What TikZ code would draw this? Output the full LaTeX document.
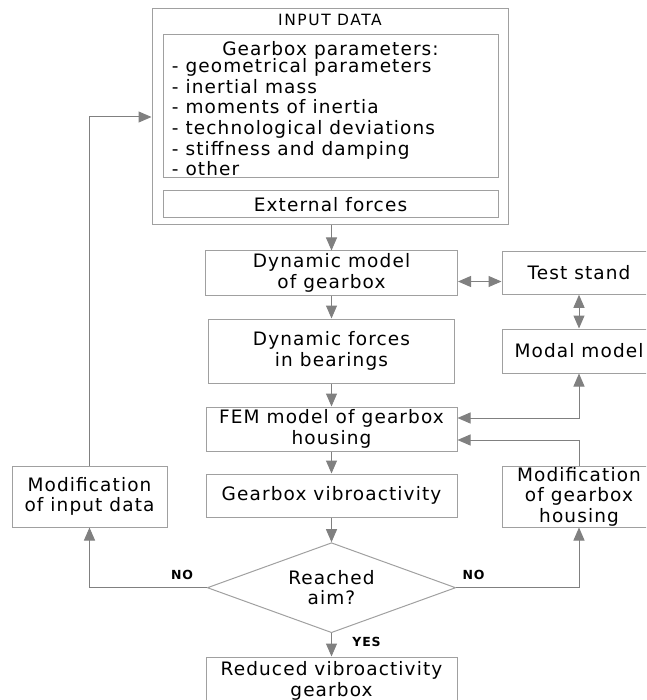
\documentclass[tikz,border=0pt]{standalone}
\usepackage{fontspec}
\setmainfont{DejaVu Sans}[LetterSpace=6]
\newfontfamily\smallcapsfont{DejaVu Sans}[LetterSpace=10]
\usetikzlibrary{arrows.meta,shapes.geometric,calc}
\definecolor{boxgray}{HTML}{A0A0A0}
\definecolor{arrgray}{HTML}{808080}
\begin{document}
\begin{tikzpicture}[x=1pt,y=-1pt,
  every node/.style={font=\fontsize{18.5}{20.6}\selectfont},
  box/.style={draw=boxgray, line width=1pt, inner sep=0pt, align=center},
  arr/.style={draw=arrgray, line width=1pt, -{Triangle[length=13pt,width=11pt]}},
  dbl/.style={draw=arrgray, line width=1pt, {Triangle[length=13pt,width=11pt]}-{Triangle[length=13pt,width=11pt]}},
  lbl/.style={font=\bfseries\fontsize{12.5}{14}\selectfont, inner sep=0pt}]
\useasboundingbox (0,0) rectangle (646,700);
\clip (0,0) rectangle (646,700);
% input block
\node[box, minimum width=356pt, minimum height=216pt] (input) at (330,117) {};
\node[font=\smallcapsfont\fontsize{15.5}{17}\selectfont, inner sep=0pt] (inputlbl) at (330,20) {INPUT DATA};
\node[box, minimum width=335pt, minimum height=143pt] (params) at (330.5,106.5) {};
\node[anchor=base, inner sep=0pt] (ptitle) at (330.5,56) {Gearbox parameters:};
\foreach \t [count=\i] in {geometrical parameters, inertial mass, moments of inertia, technological deviations, stiffness and damping, other}
  \node[anchor=base west, inner sep=0pt] (p\i) at (171.7,{72.7+20.6*(\i-1)}) {- \t};
\node[box, minimum width=335pt, minimum height=27pt] (ext) at (330.5,204.5) {External forces};
% centre column
\node[box, minimum width=252pt, minimum height=44pt] (dyn) at (331.5,273) {Dynamic model\\of gearbox};
\node[box, minimum width=246pt, minimum height=64pt] (force) at (331.5,351) {Dynamic forces\\in bearings};
\node[box, minimum width=251pt, minimum height=44pt] (fem) at (331.5,429) {FEM model of gearbox\\housing};
\node[box, minimum width=251pt, minimum height=43pt] (vib) at (331.5,495.5) {Gearbox vibroactivity};
\node[draw=boxgray, line width=1pt, diamond, aspect=2.76, minimum width=248.4pt, minimum height=90pt, inner sep=0pt, align=center] (dec) at (331.5,587.7) {Reached\\aim?};
\node[box, minimum width=251pt, minimum height=48pt] (red) at (331.5,681) {Reduced vibroactivity\\gearbox};
% right column
\node[box, minimum width=154pt, minimum height=42.5pt] (test) at (579,273) {Test stand};
\node[box, minimum width=154pt, minimum height=44pt] (modal) at (579,351) {Modal model};
\node[box, minimum width=154pt, minimum height=61pt] (modg) at (579,496.5) {Modification\\of gearbox\\housing};
% left column
\node[box, minimum width=155pt, minimum height=61pt] (modi) at (89.5,496.5) {Modification\\of input data};
% labels
\node[lbl] (noL) at (182,575) {NO};
\node[lbl] (noR) at (473.5,575) {NO};
\node[lbl] (yes) at (366.5,642) {YES};
% connectors
\draw[arr] (dyn.north |- input.south) -- (dyn.north);
\draw[arr] (dyn.south) -- (force.north);
\draw[arr] (force.south) -- (fem.north);
\draw[arr] (fem.south) -- (vib.north);
\draw[arr] (vib.south) -- (dec.north);
\draw[arr] (dec.south) -- (red.north);
\draw[dbl] ($(dyn.east)+(0,8.5)$) -- ($(test.west)+(0,8.5)$);
\draw[dbl] (test.south) -- (modal.north);
\draw[dbl] (modal.south) |- ($(fem.east)+(0,-11)$);
\draw[arr] (modg.north) |- ($(fem.east)+(0,11)$);
\draw[arr] (dec.west) -| (modi.south);
\draw[arr] (dec.east) -| (modg.south);
\draw[arr] (modi.north) |- (input.west);
\end{tikzpicture}
\end{document}
